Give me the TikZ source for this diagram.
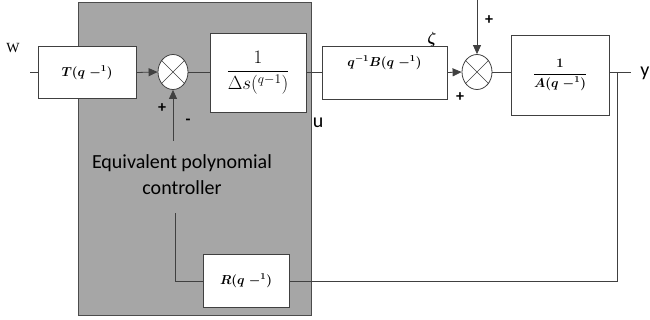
\RequirePackage{fix-cm}
\documentclass[tikz,border=0pt]{standalone}
\usepackage{amsmath}
\usepackage{fontspec}
\setmainfont{Liberation Serif}
\newfontfamily\calfont{Carlito}
\usetikzlibrary{arrows.meta,shapes.geometric}
\begin{document}
\begin{tikzpicture}[
		x = 1pt, y = -1pt,
		ln/.style   = {line width=0.8pt, draw=black!75},
		blk/.style  = {rectangle, ln, fill=white, inner sep=0pt,
			font=\fontsize{13}{15}\selectfont},
		sm/.style   = {ellipse, ln, fill=white, inner sep=0pt,
			minimum width=30pt, minimum height=35pt},
		sgn/.style  = {font=\fontsize{16}{18}\selectfont\bfseries\calfont},
		lbl/.style  = {font=\fontsize{20}{26}\selectfont\calfont},
		>={Triangle[length=9pt,width=8pt]}
		]
		\useasboundingbox (0,0) rectangle (650,320);
		
		\filldraw[fill=black!35, draw=black!70, line width=1pt] (78,3) rectangle (311,315);
		
		\node[blk, minimum width=98pt, minimum height=52pt] (T)  at ( 87, 72.5) {$\boldsymbol{T(q\;{-}^{1})}$};
		\node[sm]                                           (s1) at (173, 72)   {};
		\node[blk, minimum width=96pt, minimum height=79pt,
		font=\fontsize{19}{22}\selectfont]                  (DS) at (258, 72.5) {$\dfrac{1}{\Delta s(^{q-1})}$};
		\node[blk, minimum width=125pt, minimum height=53pt] (B) at (384.5, 72.5) {};
		\node[font=\fontsize{13}{15}\selectfont] at (B.north) [anchor=north, yshift=-7pt] {$\boldsymbol{q^{-1}B(q\;{-}^{1})}$};
		\node[sm]                                           (s2) at (477, 72)   {};
		\node[blk, minimum width=98pt, minimum height=80pt] (A)  at (560, 75)   {$\boldsymbol{\dfrac{1}{A(q\;{-}^{1})}}$};
		\node[blk, minimum width=86pt, minimum height=53pt] (R)  at (246, 281)  {$\boldsymbol{R(q\;{-}^{1})}$};
		
		\foreach \s in {s1, s2} {
			\draw[ln, line width=0.6pt] (\s.45) -- (\s.225) (\s.135) -- (\s.315);
		}
		
		\coordinate (win)   at ( 30, 72.5);
		\coordinate (fbin)  at (173, 141);
		\coordinate (din)   at (477, 0);
		\coordinate (yout)  at (631, 72.5);
		\coordinate (ytap)  at (617, 72.5);
		\coordinate (cup)   at (175, 213);
		
		\draw[ln] (win) -- (T.west);
		\draw[ln, ->] (T.east) -- (s1.west);
		\draw[ln, ->] (fbin) -- (s1.south);
		\draw[ln] (s1.east) -- (s1.east -| DS.west);
		\draw[ln] (DS.east) -- (B.west);
		\draw[ln, ->] (B.east) -- (s2.west);
		\draw[ln, ->] (din) -- (s2.north);
		\draw[ln] (s2.east) -- (s2.east -| A.west);
		\draw[ln] (A.east |- yout) -- (yout);
		\draw[ln] (ytap) |- (R.east);
		\draw[ln] (R.west) -| (cup);
		
		\node[font=\fontsize{14}{16}\selectfont] (lw) at (13, 48) {W};
		\node[sgn] (p1) at (162, 108) {+};
		\node[sgn] (m1) at (188, 122) {-};
		\node[lbl] (lu) at (318, 123) {u};
		\node[font=\fontsize{16}{18}\selectfont] (lz) at (432, 40) {$\boldsymbol{\zeta}$};
		\node[sgn] (p2) at (460, 97) {+};
		\node[sgn] (p3) at (489, 20) {+};
		\node[lbl] (ly) at (645, 73) {y};
		\node[lbl, align=center] (lc) at (182, 175) {Equivalent polynomial\\controller};
	\end{tikzpicture}
\end{document}
